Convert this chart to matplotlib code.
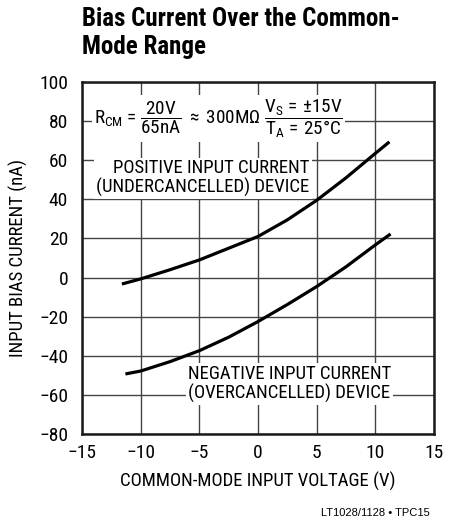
import numpy as np
import matplotlib
matplotlib.use("Agg")
from matplotlib import pyplot as plt

# curve readings (V, nA)
posVolts = [-11.6, -10, -7.5, -5, -2.5, 0, 2.5, 5, 7.5, 10, 11.2]
posCurrent = [-3.3, -0.7, 4, 9, 15, 21, 29.5, 39.5, 51, 63.5, 69.4]
negVolts = [-11.3, -10, -7.5, -5, -2.5, 0, 2.5, 5, 7.5, 10, 11.3]
negCurrent = [-49.3, -47.8, -43, -37.4, -30.5, -22.5, -13.8, -4.6, 5.5, 16.7, 22.3]

xTicks = [-15, -10, -5, 0, 5, 10, 15]
yTicks = [-80, -60, -40, -20, 0, 20, 40, 60, 80, 100]

plt.rcParams['font.family'] = ['Roboto Condensed', 'Asap Condensed', 'Barlow Semi Condensed', 'DejaVu Sans']
plt.rcParams['mathtext.fontset'] = 'custom'
plt.rcParams['mathtext.rm'] = 'Roboto Condensed'
plt.rcParams['mathtext.it'] = 'Roboto Condensed'

fig = plt.figure(figsize=(4.59, 5.18), dpi=100)
ax = fig.add_axes([82 / 459, 84 / 518, 352 / 459, 352 / 518])

ax.set_xlim(-15, 15)
ax.set_ylim(-80, 100)
ax.set_xticks(xTicks)
ax.set_yticks(yTicks)
ax.set_xticklabels([str(t).replace('-', '\u2212') for t in xTicks])
ax.set_yticklabels([str(t).replace('-', '\u2212') for t in yTicks])
ax.tick_params(length=0, labelsize=14)
ax.tick_params(axis='y', pad=10)
ax.tick_params(axis='x', pad=7)
ax.grid(True, color='#444444', linewidth=1.0)
ax.set_axisbelow(True)
for s in ax.spines.values():
    s.set_linewidth(1.8)
    s.set_color('#1a1a1a')

ax.plot(posVolts, posCurrent, color='black', linewidth=2.3, solid_capstyle='butt')
ax.plot(negVolts, negCurrent, color='black', linewidth=2.3, solid_capstyle='butt')

ax.set_xlabel('COMMON-MODE INPUT VOLTAGE (V)', fontsize=13.5, labelpad=7)
ax.set_ylabel('INPUT BIAS CURRENT (nA)', fontsize=13.5, labelpad=8)

box = dict(facecolor='white', edgecolor='none', pad=1.5)
ax.text(-14.0, 81.5,
        r'R$_{\rm CM}$ = $\dfrac{\rm 20V}{\rm 65nA}$ $\approx$ 300M$\Omega$ '
        r'$\dfrac{\rm V_S\,=\,{\pm}15V}{\rm T_A\,=\,25\degree C}$',
        fontsize=13.8, ha='left', va='center', bbox=box)
ax.text(4.4, 50.7, 'POSITIVE INPUT CURRENT\n(UNDERCANCELLED) DEVICE',
        fontsize=13.5, ha='right', va='center', multialignment='right',
        linespacing=1.05, bbox=box)
ax.text(-6.0, -54.2, 'NEGATIVE INPUT CURRENT\n(OVERCANCELLED) DEVICE',
        fontsize=13.5, ha='left', va='center', multialignment='left',
        linespacing=1.05, bbox=box)

fig.text(82 / 459, 1 - 7 / 518, 'Bias Current Over the Common-\nMode Range',
         fontsize=18, fontweight='bold', ha='left', va='top', linespacing=1.2)
fig.text(430 / 459, 1 - 513 / 518, 'LT1028/1128 \u2022 TPC15',
         fontsize=8, ha='right', va='center', family=['Liberation Sans', 'DejaVu Sans'])

fig.savefig('out.png', dpi=100)
